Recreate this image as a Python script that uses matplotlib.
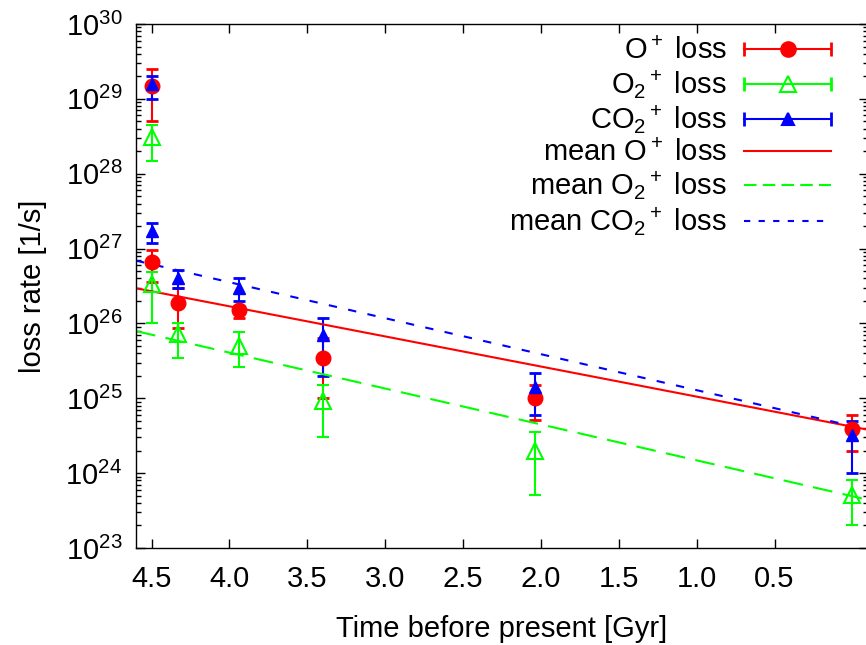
import numpy as np
import matplotlib
matplotlib.use('Agg')
import matplotlib.pyplot as plt
from matplotlib.lines import Line2D
from matplotlib.legend_handler import HandlerLine2D, HandlerTuple
from matplotlib.ticker import LogLocator, FixedLocator, NullLocator, FormatStrFormatter

plt.rcParams['font.family'] = 'Liberation Sans'
plt.rcParams['mathtext.fontset'] = 'custom'
plt.rcParams['mathtext.rm'] = 'Liberation Sans'
plt.rcParams['mathtext.it'] = 'Liberation Sans:italic'
plt.rcParams['mathtext.bf'] = 'Liberation Sans:bold'

# epochs (Gyr before present)
t = [4.5, 4.5, 4.33, 3.94, 3.40, 2.04, 0.0]

# O+ loss rate and error range [1/s]
o_rate = [1.5e29, 6.6e26, 1.9e26, 1.5e26, 3.5e25, 1.0e25, 3.9e24]
o_lo = [5.0e28, 3.6e26, 8.7e25, 1.2e26, 1.0e25, 5.1e24, 2.0e24]
o_hi = [2.5e29, 9.5e26, 3.0e26, 1.7e26, 6.3e25, 1.5e25, 6.0e24]

# O2+ loss
o2_rate = [3.1e28, 3.4e26, 7.2e25, 5.0e25, 9.3e24, 2.0e24, 5.1e23]
o2_lo = [1.5e28, 1.0e26, 3.5e25, 2.6e25, 3.0e24, 5.1e23, 2.0e23]
o2_hi = [4.5e28, 4.9e26, 1.0e26, 7.6e25, 1.5e25, 3.5e24, 8.0e23]

# CO2+ loss
co2_rate = [1.6e29, 1.7e27, 4.1e26, 3.0e26, 6.9e25, 1.4e25, 3.2e24]
co2_lo = [1.0e29, 1.2e27, 3.0e26, 2.0e26, 2.0e25, 6.0e24, 1.0e24]
co2_hi = [2.0e29, 2.2e27, 5.1e26, 4.0e26, 1.2e26, 2.2e25, 4.9e24]

# exponential mean fits, evaluated at the ends of the time range
t_fit = [4.6, -0.1]
o_mean = [2.95e26, 3.8e24]
o2_mean = [7.9e25, 4.4e23]
co2_mean = [6.9e26, 3.8e24]

xticks = [4.5, 4.0, 3.5, 3.0, 2.5, 2.0, 1.5, 1.0, 0.5]

RED, GREEN, BLUE = '#ff0000', '#00ff00', '#0000ff'
FS = 21


def err(rate, lo, hi):
    rate = np.array(rate)
    return [rate - np.array(lo), np.array(hi) - rate]


fig = plt.figure(figsize=(8.66, 6.45), dpi=100)
ax = fig.add_axes([136/866, 97/645, 732/866, 524/645])

ax.errorbar(t, o_rate, yerr=err(o_rate, o_lo, o_hi), fmt='o', color=RED,
            ms=10.5, elinewidth=1.5, capsize=4, capthick=2)
ax.errorbar(t, o2_rate, yerr=err(o2_rate, o2_lo, o2_hi), fmt='^', color=GREEN,
            mfc='none', mew=1.5, ms=11, elinewidth=1.5, capsize=4, capthick=2)
ax.errorbar(t, co2_rate, yerr=err(co2_rate, co2_lo, co2_hi), fmt='^', color=BLUE,
            ms=8, elinewidth=1.5, capsize=4, capthick=2)

ax.plot(t_fit, o_mean, color=RED, lw=1.5)
ax.plot(t_fit, o2_mean, color=GREEN, lw=1.5, dashes=(9.5, 5))
ax.plot(t_fit, co2_mean, color=BLUE, lw=1.5, dashes=(4, 5.5))

ax.set_yscale('log')
ax.set_ylim(1e23, 1e30)
ax.set_xlim(4.6, -0.1)

ax.xaxis.set_major_locator(FixedLocator(xticks))
ax.xaxis.set_major_formatter(FormatStrFormatter('%.1f'))
ax.xaxis.set_minor_locator(NullLocator())
ax.yaxis.set_major_locator(FixedLocator([10.0**k for k in range(23, 31)]))
ax.yaxis.set_minor_locator(LogLocator(base=10, subs=np.arange(2, 10), numticks=20))

ax.tick_params(which='both', direction='in', top=True, right=True, width=1)
ax.tick_params(which='major', length=6.5, labelsize=FS)
ax.tick_params(which='minor', length=3.6)
ax.tick_params(axis='x', pad=12)
ax.tick_params(axis='y', pad=10)
for s in ax.spines.values():
    s.set_linewidth(1)

ax.set_xlabel('Time before present [Gyr]', fontsize=FS, labelpad=16)
ax.set_ylabel('loss rate [1/s]', fontsize=FS, labelpad=13)

# legend keys drawn gnuplot-style: horizontal bar with end caps plus marker
def key(color, marker, ms, mfc):
    bar = Line2D([], [], color=color, lw=1.5, marker='|', ms=10, mew=2)
    mk = Line2D([], [], color=color, ls='none', marker=marker, ms=ms,
                mfc=mfc, mew=1.5)
    return bar, mk

bars = []
handles = []
for c, m, ms, mfc in [(RED, 'o', 10.5, RED), (GREEN, '^', 11, 'none'), (BLUE, '^', 8, BLUE)]:
    b, mk = key(c, m, ms, mfc)
    bars.append(b)
    handles.append((b, mk))
handles += [Line2D([], [], color=RED, lw=1.5),
            Line2D([], [], color=GREEN, lw=1.5, dashes=(6, 3)),
            Line2D([], [], color=BLUE, lw=1.5, dashes=(3, 4))]
labels = [r'O$^+$ loss', r'O$_2$$^+$ loss', r'CO$_2$$^+$ loss',
          r'mean O$^+$ loss', r'mean O$_2$$^+$ loss', r'mean CO$_2$$^+$ loss']

hmap = {tuple: HandlerTuple(ndivide=1, pad=0)}
for b in bars:
    hmap[b] = HandlerLine2D(numpoints=2, marker_pad=0)

ax.legend(handles, labels, loc='upper right', frameon=False, markerfirst=False,
          fontsize=FS, handlelength=2.97, handletextpad=0.6, labelspacing=0.1,
          borderpad=0, borderaxespad=0, bbox_to_anchor=(831/866, 1 - 37/645),
          bbox_transform=fig.transFigure, handler_map=hmap)

fig.savefig('out.png', dpi=100)
